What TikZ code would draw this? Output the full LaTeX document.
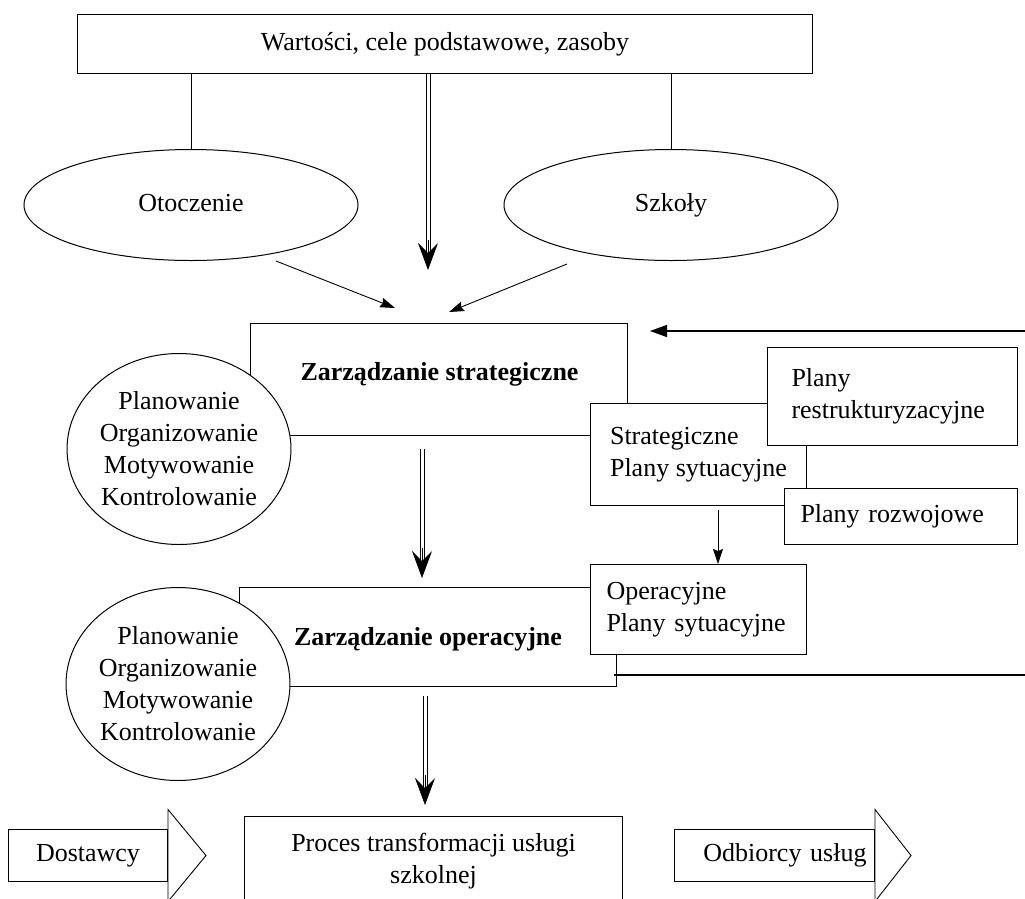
\documentclass[tikz,border=0pt]{standalone}
\usepackage{fontspec}
\setmainfont{Liberation Serif}
\usetikzlibrary{arrows.meta,shapes.geometric}
\begin{document}
\begin{tikzpicture}[x=1pt,y=-1pt,
  every node/.style={font=\fontsize{26}{32}\selectfont},
  bf/.style={font=\fontsize{26}{32}\selectfont\bfseries},
  box/.style={draw, line width=1pt, fill=white, rectangle, inner sep=0pt, anchor=north west},
  oval/.style={draw, line width=1pt, fill=white, ellipse, inner sep=0pt, align=center},
  shaft/.style={line width=0.8pt, shorten >=14pt},
  dtip/.style={line width=0.7pt, -{Stealth[length=27pt,width=20pt,inset=10pt]}},
  arr/.style={line width=0.9pt, -{Stealth[length=15pt,width=10pt,inset=2pt]}},
  ln/.style={line width=0.9pt},
  ]
\useasboundingbox (0,0) rectangle (1025,898);
\clip (0,0) rectangle (1025,898);

% top
\node[box, minimum width=735, minimum height=59] (top) at (77,14) {Wartości, cele podstawowe, zasoby};
\node[oval, minimum width=334, minimum height=111, text height=18pt, text depth=6pt] (otocz) at (191,205) {Otoczenie};
\node[oval, minimum width=334, minimum height=111, text height=18pt, text depth=6pt] (szk) at (671,205) {Szkoły};
\draw[ln] (otocz.north |- top.south) -- (otocz.north);
\draw[ln] (szk.north |- top.south) -- (szk.north);

\coordinate (d1e) at (428,270);
\coordinate (d1s) at (top.south -| d1e);
\draw[shaft] ([xshift=-2pt]d1s) -- ([xshift=-2pt]d1e);
\draw[shaft] ([xshift=2pt]d1s) -- ([xshift=2pt]d1e);
\draw[dtip] (d1e) ++(0,-30) -- (d1e);
\coordinate (a1s) at (276,261);
\coordinate (a1e) at (395,308);
\coordinate (a2s) at (567,264);
\coordinate (a2e) at (449,312);
\draw[arr] (a1s) -- (a1e);
\draw[arr] (a2s) -- (a2e);

% strategic level
\node[box, minimum width=377, minimum height=112] (strat) at (250,323) {};
\node[bf] (stratT) at (439.5,374) {Zarządzanie strategiczne};
\node[oval, minimum width=222, minimum height=191] (pl1) at (179,449) {Planowanie\\Organizowanie\\Motywowanie\\Kontrolowanie};
\node[box, minimum width=216, minimum height=102, align=left] (sp) at (590,403) {Strategiczne\\Plany sytuacyjne};
\node[box, minimum width=250, minimum height=98, text width=202, inner xsep=24pt, align=left] (restr) at (767,347) {Plany\\restrukturyzacyjne};
\node[box, minimum width=233, minimum height=56, text width=201, inner xsep=16pt, align=left] (rozw) at (784,488) {Plany rozwojowe};

\coordinate (fbin) at (1025,331);
\coordinate (fbend) at (650,331);
\draw[line width=1.5pt, -{Stealth[length=17pt,width=12pt,inset=0pt]}] (fbin) -- (fbend);

\coordinate (d2s) at (422,449);
\coordinate (d2e) at (422,578);
\draw[shaft] ([xshift=-2pt]d2s) -- ([xshift=-2pt]d2e);
\draw[shaft] ([xshift=2pt]d2s) -- ([xshift=2pt]d2e);
\draw[dtip] (d2e) ++(0,-30) -- (d2e);

% operational level
\node[box, minimum width=377, minimum height=99] (op) at (239,587) {};
\node[bf] (opT) at (428,639) {Zarządzanie operacyjne};
\node[box, minimum width=216, minimum height=90, text width=184, inner xsep=16pt, align=left] (opp) at (590,564) {Operacyjne\\Plany sytuacyjne};
\node[oval, minimum width=220, minimum height=193] (pl2) at (178,684) {Planowanie\\Organizowanie\\Motywowanie\\Kontrolowanie};

\coordinate (xa) at (718,0);
\draw[arr] (xa |- sp.south) ++(0,4) -- (xa |- opp.north);

\coordinate (fbs) at (614,675);
\coordinate (fbout) at (1025,675);
\draw[line width=1.2pt] (fbs) -- (fbout);

\coordinate (d3s) at (425,696);
\coordinate (d3e) at (425,805);
\draw[shaft] ([xshift=-2pt]d3s) -- ([xshift=-2pt]d3e);
\draw[shaft] ([xshift=2pt]d3s) -- ([xshift=2pt]d3e);
\draw[dtip] (d3e) ++(0,-30) -- (d3e);

% bottom
\node[box, minimum width=378, minimum height=89, align=center] (proc) at (244,816) {Proces transformacji usługi\\szkolnej};
\node[box, minimum width=159, minimum height=52] (dost) at (8,829) {Dostawcy};
\draw[ln, fill=white] (dost.east) ++(0,-46) -- ++(38,46) -- ++(-38,46) -- cycle;
\node[box, minimum width=200, minimum height=52, text width=184, inner xsep=8pt, align=right] (odb) at (674,829) {Odbiorcy usług};
\draw[ln, fill=white] (odb.east) ++(0,-46) -- ++(36,46) -- ++(-36,46) -- cycle;
\end{tikzpicture}
\end{document}
